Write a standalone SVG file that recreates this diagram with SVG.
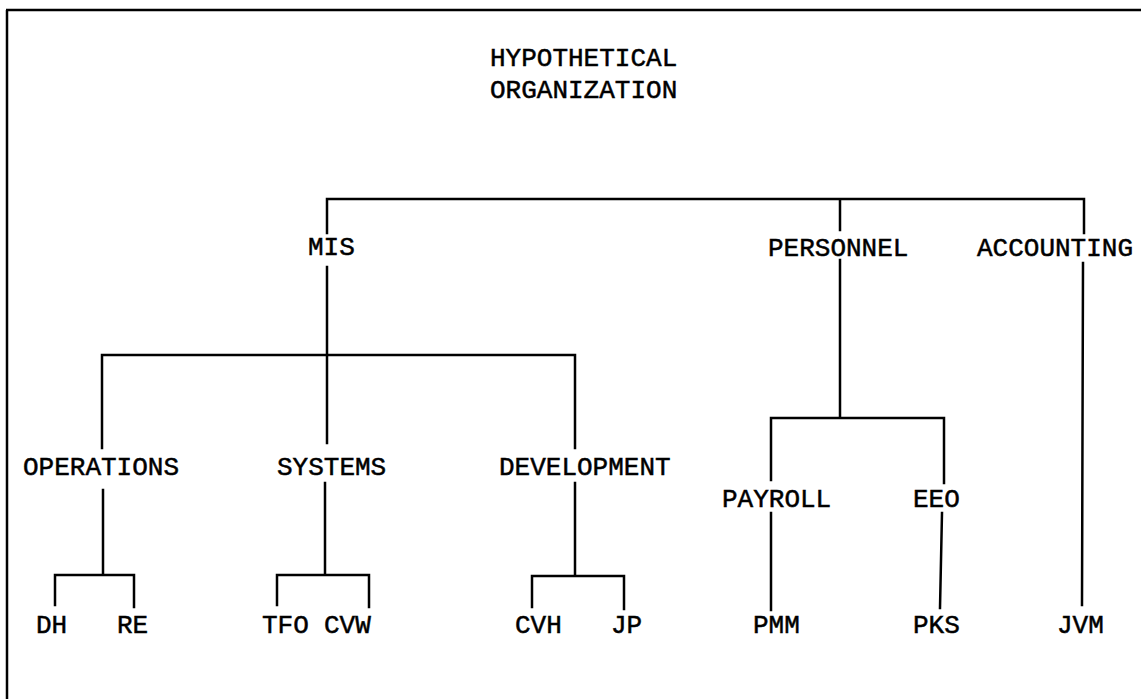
<svg xmlns="http://www.w3.org/2000/svg" width="1141" height="699" viewBox="0 0 1141 699">
<style>
text{font-family:"Liberation Mono","Courier New",monospace;font-size:26px;fill:#000;stroke:#000;stroke-width:0.5}
.c{stroke:#000;stroke-width:2.5;fill:none;stroke-linecap:square}
.b{stroke:#000;stroke-width:2.5;fill:none}
</style>
<rect width="1141" height="699" fill="#fff"/>
<g id="frame"><path class="b" d="M6 10H1141M7 10V699"/></g>
<g id="title"><text x="490" y="66">HYPOTHETICAL</text><text x="490" y="98">ORGANIZATION</text></g>
<g id="connectors">
<path class="c" d="M327 199H1084M327 199V233M840 199V230M1084 199V233"/>
<path class="c" d="M327 267V443M102 355H575M102 355V448M575 355V448"/>
<path class="c" d="M840 260V418M771 418H944M771 418V480M944 418V483"/>
<path class="c" d="M771 513V610M942 513L940 608M1083 263L1082 605"/>
<path class="c" d="M103 490V575M55 575H134M55 575V605M134 575V607"/>
<path class="c" d="M325 483V575M277 575H369M277 575V605M369 575V607"/>
<path class="c" d="M575 483V576M532 576H624M532 576V607M624 576V609"/>
</g>
<g id="mis"><text x="308" y="255">MIS</text></g>
<g id="personnel"><text x="768" y="256">PERSONNEL</text></g>
<g id="accounting"><text x="977" y="256">ACCOUNTING</text></g>
<g id="operations"><text x="23" y="475">OPERATIONS</text></g>
<g id="systems"><text x="277" y="475">SYSTEMS</text></g>
<g id="development"><text x="499" y="475">DEVELOPMENT</text></g>
<g id="payroll"><text x="722" y="507">PAYROLL</text></g>
<g id="eeo"><text x="913" y="507">EEO</text></g>
<g id="dh"><text x="36" y="633">DH</text></g>
<g id="re"><text x="117" y="633">RE</text></g>
<g id="tfo"><text x="262" y="633">TFO</text></g>
<g id="cvw"><text x="324" y="633">CVW</text></g>
<g id="cvh"><text x="515" y="633">CVH</text></g>
<g id="jp"><text x="611" y="633">JP</text></g>
<g id="pmm"><text x="753" y="633">PMM</text></g>
<g id="pks"><text x="913" y="633">PKS</text></g>
<g id="jvm"><text x="1057" y="633">JVM</text></g>
</svg>
